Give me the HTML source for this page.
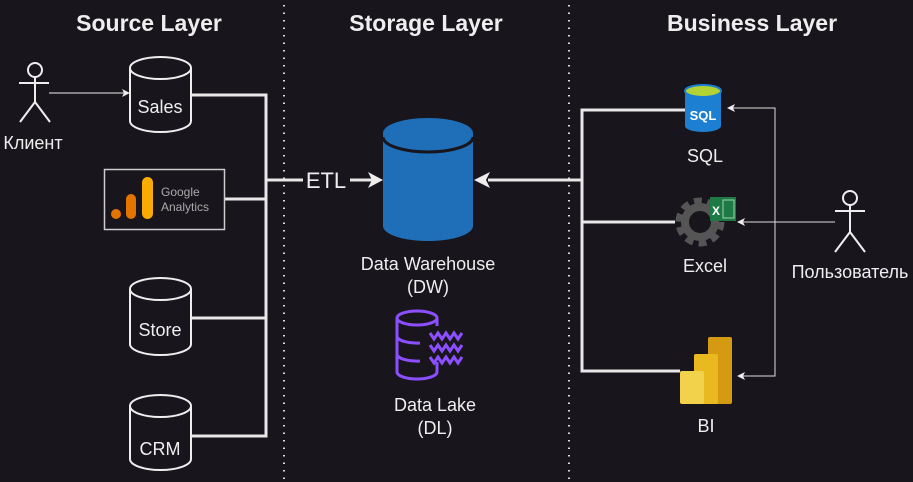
<!DOCTYPE html>
<html><head><meta charset="utf-8"><style>
body{margin:0;background:#18151c;}
svg{display:block;font-family:"Liberation Sans","DejaVu Sans",sans-serif;}
</style></head><body>
<svg width="913" height="482" viewBox="0 0 913 482" xmlns="http://www.w3.org/2000/svg">
<rect width="913" height="482" fill="#18151c"/>
<g font-weight="bold" font-size="23" fill="#eeeeee" text-anchor="middle">
<text x="149" y="31">Source Layer</text>
<text x="426" y="31">Storage Layer</text>
<text x="752" y="31">Business Layer</text>
</g>
<line x1="284" y1="5" x2="284" y2="482" stroke="#ddd" stroke-width="2" stroke-dasharray="1.5 6"/>
<line x1="569" y1="5" x2="569" y2="482" stroke="#ddd" stroke-width="2" stroke-dasharray="1.5 6"/>

<g stroke="#e8e8e8" stroke-width="3" fill="none">
<polyline points="191,95 266,95 266,436 191,436"/>
<line x1="224" y1="199" x2="266" y2="199"/>
<line x1="191" y1="318" x2="266" y2="318"/>
<line x1="266" y1="180" x2="303" y2="180"/>
<line x1="350" y1="180" x2="372" y2="180"/>
<polyline points="685,110 582,110 582,371 680,371"/>
<line x1="582" y1="222" x2="675" y2="222"/>
<line x1="582" y1="180" x2="488" y2="180"/>
</g>
<polygon points="383,180 368,172 372,180 368,188" fill="#eee"/>
<polygon points="474,180 490,172 486,180 490,188" fill="#eee"/>
<text x="326" y="188" font-size="22" fill="#eee" text-anchor="middle">ETL</text>

<g stroke="#eee" stroke-width="2" fill="#18151c">
<path d="M130,68 A30.5,11 0 0 1 191,68 V121 A30.5,11 0 0 1 130,121 Z"/><path d="M130,68 A30.5,11 0 0 0 191,68" fill="none"/>
<path d="M130,289 A30.5,11 0 0 1 191,289 V344 A30.5,11 0 0 1 130,344 Z"/><path d="M130,289 A30.5,11 0 0 0 191,289" fill="none"/>
<path d="M130,406 A30.5,11 0 0 1 191,406 V459 A30.5,11 0 0 1 130,459 Z"/><path d="M130,406 A30.5,11 0 0 0 191,406" fill="none"/>
</g>
<g font-size="18" fill="#eee" text-anchor="middle">
<text x="160" y="113">Sales</text>
<text x="160" y="336">Store</text>
<text x="160" y="455">CRM</text>
</g>

<rect x="104.5" y="169.5" width="120" height="60" fill="#18151c" stroke="#ccc" stroke-width="1.5"/>
<circle cx="116" cy="214" r="5" fill="#e37400"/>
<rect x="126" y="194" width="10" height="25" rx="5" fill="#e37400"/>
<rect x="142" y="177" width="11" height="42" rx="5.5" fill="#f9ab00"/>
<text x="161" y="196" font-size="12" fill="#aaa">Google</text>
<text x="161" y="211" font-size="12" fill="#aaa">Analytics</text>

<g stroke="#eee" stroke-width="2" fill="none">
<circle cx="35" cy="70" r="7"/>
<line x1="35" y1="77" x2="35" y2="102"/><line x1="19" y1="83" x2="49" y2="83"/>
<line x1="35" y1="102" x2="20" y2="122"/><line x1="35" y1="102" x2="50" y2="122"/>
</g>
<text x="33" y="149" font-size="18" fill="#eee" text-anchor="middle">Клиент</text>
<line x1="49" y1="93" x2="124" y2="93" stroke="#eee" stroke-width="1"/>
<polygon points="130,93 122,89 124,93 122,97" fill="#eee"/>

<path d="M383,133 A45,15 0 0 1 473,133 V226 A45,15 0 0 1 383,226 Z" fill="#1f6fb8"/>
<path d="M383,137 A45,15 0 0 0 473,137" fill="none" stroke="#18151c" stroke-width="3"/>
<text x="428" y="270" font-size="18" fill="#eee" text-anchor="middle">Data Warehouse</text>
<text x="428" y="293" font-size="18" fill="#eee" text-anchor="middle">(DW)</text>

<g stroke="#8c4fff" stroke-width="3" fill="none">
<ellipse cx="417" cy="318" rx="20" ry="7"/>
<path d="M397,318 V372 A20,7 0 0 0 437,372 V362"/>
<path d="M397,336 A20,7 0 0 0 420,343"/><path d="M397,354 A20,7 0 0 0 420,361"/>
<path d="M437,318 V326"/>
<path d="M430,333 l4,6 4,-6 4,6 4,-6 4,6 4,-6 4,6 4,-6"/>
<path d="M430,345 l4,6 4,-6 4,6 4,-6 4,6 4,-6 4,6 4,-6"/>
<path d="M430,357 l4,6 4,-6 4,6 4,-6 4,6 4,-6 4,6 4,-6"/>
</g>
<text x="435" y="411" font-size="18" fill="#eee" text-anchor="middle">Data Lake</text>
<text x="435" y="434" font-size="18" fill="#eee" text-anchor="middle">(DL)</text>

<path d="M685,91 A18,6 0 0 1 721,91 V126 A18,6 0 0 1 685,126 Z" fill="#1c7fd1"/>
<ellipse cx="703" cy="91" rx="18" ry="6" fill="#b3d335" stroke="#1c7fd1" stroke-width="2"/>
<text x="703" y="120" font-size="13" font-weight="bold" fill="#fff" text-anchor="middle">SQL</text>
<text x="705" y="162" font-size="18" fill="#eee" text-anchor="middle">SQL</text>

<circle cx="700" cy="222" r="19" fill="none" stroke="#555" stroke-width="11" stroke-dasharray="7 5"/>
<circle cx="700" cy="222" r="15" fill="none" stroke="#555" stroke-width="8"/>
<rect x="710" y="197" width="26" height="24" fill="#1d7a44"/>
<rect x="723" y="200" width="11" height="18" fill="none" stroke="#9fd3b0" stroke-width="1"/>
<text x="712" y="215" font-size="12" font-weight="bold" fill="#fff">X</text>
<text x="705" y="272" font-size="18" fill="#eee" text-anchor="middle">Excel</text>

<rect x="708" y="337" width="24" height="67" rx="2" fill="#d49a12"/>
<rect x="694" y="354" width="24" height="50" rx="2" fill="#eab91f"/>
<rect x="680" y="371" width="24" height="33" rx="2" fill="#f2d24a"/>
<text x="706" y="432" font-size="18" fill="#eee" text-anchor="middle">BI</text>

<g stroke="#ddd" stroke-width="1" fill="none">
<polyline points="733,108 775,108 775,376 743,376"/>
<line x1="743" y1="222" x2="835" y2="222"/>
</g>
<polygon points="727,108 735,104 733,108 735,112" fill="#eee"/>
<polygon points="737,222 745,218 743,222 745,226" fill="#eee"/>
<polygon points="737,376 745,372 743,376 745,380" fill="#eee"/>

<g stroke="#eee" stroke-width="2" fill="none">
<circle cx="850" cy="198" r="7"/>
<line x1="850" y1="205" x2="850" y2="232"/><line x1="835" y1="211" x2="865" y2="211"/>
<line x1="850" y1="232" x2="835" y2="252"/><line x1="850" y1="232" x2="865" y2="252"/>
</g>
<text x="850" y="278" font-size="18" fill="#eee" text-anchor="middle">Пользователь</text>
</svg>
</body></html>
